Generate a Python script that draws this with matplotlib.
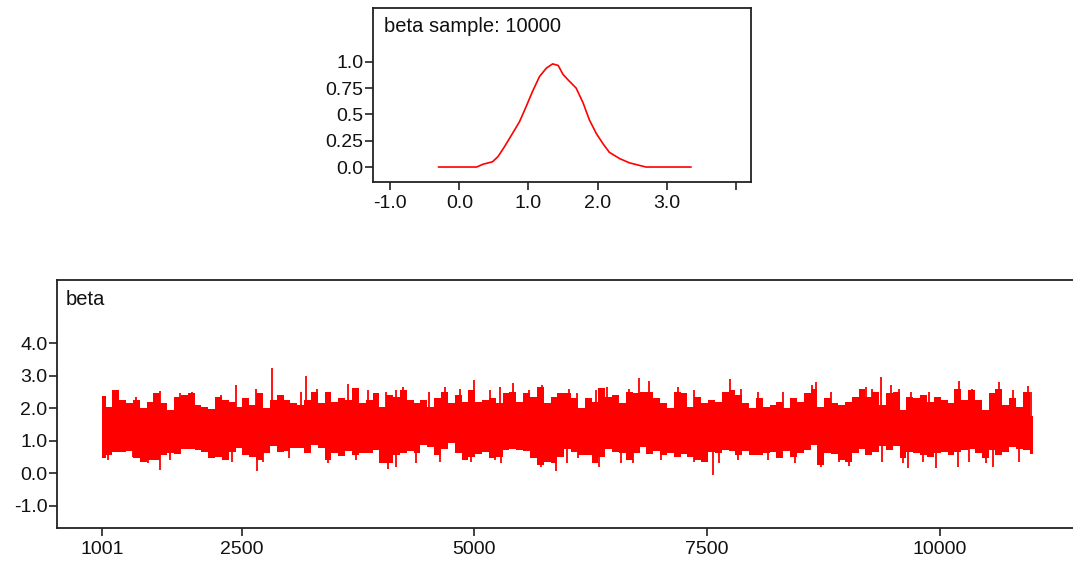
import numpy as np
import matplotlib
matplotlib.use("Agg")
from matplotlib import pyplot as plt

plt.rcParams['font.family'] = ['Liberation Sans', 'DejaVu Sans']

# density of beta (kernel estimate)
dens_x = [-0.3, 0.25, 0.34, 0.48, 0.56, 0.65, 0.77, 0.87, 0.97, 1.06, 1.16, 1.26, 1.35, 1.43,
          1.50, 1.57, 1.69, 1.79, 1.88, 1.98, 2.08, 2.17, 2.32, 2.46, 2.58, 2.70, 3.35]
dens_y = [0, 0, 0.026, 0.05, 0.1, 0.19, 0.32, 0.43, 0.58, 0.72, 0.86, 0.94, 0.98, 0.965,
          0.88, 0.83, 0.75, 0.61, 0.45, 0.32, 0.22, 0.14, 0.08, 0.04, 0.02, 0, 0]

# trace of beta: upper / lower edge of the dense band, iterations 1001..11000
trace_hi = [2.37, 2.04, 2.55, 2.25, 2.16, 2.25, 1.99, 2.19, 2.45, 2.16, 1.94, 2.35, 2.40, 2.45, 2.09, 2.04, 1.96, 2.35, 2.25, 2.20, 2.04, 2.30, 2.10,
            2.45, 1.99, 2.25, 2.40, 2.25, 2.14, 2.09, 2.25, 2.50, 2.14, 2.50, 2.19, 2.30, 2.25, 2.61, 2.14, 2.25, 2.45, 2.04, 2.40, 2.35, 2.55, 2.25,
            2.14, 2.25, 2.04, 2.30, 2.50, 2.14, 2.40, 2.19, 2.55, 2.19, 2.25, 2.30, 2.14, 2.45, 2.50, 2.19, 2.45, 2.35, 2.66, 2.14, 2.35, 2.45, 2.45,
            2.30, 1.99, 2.30, 2.19, 2.61, 2.35, 2.40, 2.14, 2.50, 2.45, 2.50, 2.50, 2.30, 2.14, 1.99, 2.50, 2.45, 2.04, 2.35, 2.14, 2.25, 2.19, 2.50,
            2.55, 2.40, 2.14, 1.99, 2.30, 2.04, 2.09, 2.19, 1.99, 2.30, 2.19, 2.45, 2.60, 2.04, 2.30, 2.14, 2.09, 2.19, 2.35, 2.60, 2.35, 2.50, 2.09,
            2.45, 2.50, 1.94, 2.35, 2.30, 2.40, 2.19, 2.35, 2.25, 2.14, 2.60, 2.25, 2.55, 2.25, 1.94, 2.45, 2.60, 2.09, 2.30, 2.04, 2.50, 1.75]
trace_lo = [0.45, 0.55, 0.66, 0.66, 0.69, 0.45, 0.35, 0.40, 0.40, 0.55, 0.61, 0.58, 0.73, 0.73, 0.71, 0.66, 0.45, 0.50, 0.40, 0.66, 0.76, 0.55, 0.50,
            0.40, 0.61, 0.83, 0.66, 0.69, 0.76, 0.76, 0.61, 0.86, 0.76, 0.40, 0.63, 0.52, 0.69, 0.55, 0.61, 0.63, 0.71, 0.30, 0.30, 0.55, 0.61, 0.69,
            0.63, 0.86, 0.79, 0.55, 0.73, 0.91, 0.63, 0.40, 0.50, 0.58, 0.66, 0.45, 0.50, 0.71, 0.73, 0.71, 0.69, 0.45, 0.25, 0.35, 0.30, 0.50, 0.73,
            0.66, 0.55, 0.55, 0.30, 0.50, 0.73, 0.66, 0.61, 0.40, 0.63, 0.79, 0.58, 0.69, 0.55, 0.61, 0.50, 0.58, 0.50, 0.40, 0.35, 0.66, 0.61, 0.71,
            0.69, 0.55, 0.69, 0.55, 0.55, 0.61, 0.66, 0.45, 0.69, 0.50, 0.61, 0.71, 0.86, 0.25, 0.61, 0.58, 0.40, 0.35, 0.63, 0.73, 0.55, 0.66, 0.83,
            0.71, 0.83, 0.45, 0.66, 0.61, 0.55, 0.50, 0.63, 0.66, 0.55, 0.66, 0.71, 0.73, 0.61, 0.45, 0.71, 0.55, 0.66, 0.81, 0.73, 0.71, 0.60]

# single draws that stick out of the band
spike_hi_it = [1367, 1626, 1842, 1971, 2273, 2434, 2650, 2822, 3135, 3188, 3307, 3640, 3857, 4050, 4158, 4234,
               4514, 4686, 4848, 4999, 5171, 5279, 5419, 5581, 5721, 6012, 6098, 6303, 6421, 6658, 6766, 6874,
               7187, 7359, 7740, 7865, 8048, 8318, 8620, 8663, 8824, 9201, 9266, 9363, 9471, 9557, 9686, 9880,
               10204, 10343, 10635, 10785, 10947, 10979]
spike_hi_v = [2.35, 2.53, 2.45, 2.50, 2.40, 2.71, 2.60, 3.22, 2.50, 3.00, 2.60, 2.75, 2.55, 2.50, 2.55, 2.65,
              2.50, 2.66, 2.60, 2.86, 2.55, 2.66, 2.78, 2.55, 2.72, 2.60, 2.45, 2.55, 2.66, 2.60, 2.93, 2.82,
              2.66, 2.55, 2.90, 2.60, 2.50, 2.50, 2.70, 2.80, 2.50, 2.66, 2.60, 2.96, 2.70, 2.60, 2.50, 2.50,
              2.82, 2.60, 2.80, 2.55, 2.68, 2.50]
spike_lo_it = [1066, 1335, 1497, 1626, 1734, 2197, 2391, 2660, 2725, 3005, 3426, 3727, 4072, 4158,
               4374, 4632, 4967, 5225, 5290, 5710, 5872, 5990, 6109, 6335, 6572, 6701, 7003, 7359, 7564, 7628,
               7833, 8156, 8447, 8727, 8910, 9018, 9374, 9600, 9654, 9815, 9956, 10193, 10312, 10495, 10570, 10850]
spike_lo_v = [0.40, 0.50, 0.30, 0.09, 0.40, 0.45, 0.35, 0.05, 0.35, 0.45, 0.30, 0.40, 0.12, 0.20,
              0.30, 0.35, 0.35, 0.40, 0.30, 0.20, 0.05, 0.30, 0.45, 0.20, 0.30, 0.30, 0.40, 0.35, -0.05, 0.30,
              0.40, 0.40, 0.30, 0.20, 0.35, 0.22, 0.35, 0.30, 0.15, 0.35, 0.15, 0.18, 0.35, 0.30, 0.20, 0.35]

iter_first, iter_last = 1001, 11000
trace_ticks = [1001, 2500, 5000, 7500, 10000]

red = '#ff0000'
txt = '#111111'

fig = plt.figure(figsize=(10.73, 5.69), dpi=100)

def style(ax):
    for s in ax.spines.values():
        s.set_linewidth(1.3)
        s.set_color('#222222')
    ax.tick_params(direction='out', length=5.5, width=1.2, color='#222222',
                   labelsize=14, labelcolor=txt)
    ax.tick_params(axis='y', pad=1.5)
    ax.tick_params(axis='x', pad=4)

# top: density
ax1 = fig.add_axes([0.3476, 0.680, 0.3523, 0.3058])
ax1.plot(dens_x, dens_y, color=red, lw=1.2)
ax1.set_xlim(-1.25, 4.22)
ax1.set_ylim(-0.143, 1.51)
ax1.set_xticks([-1, 0, 1, 2, 3, 4])
ax1.set_xticklabels(['-1.0', '0.0', '1.0', '2.0', '3.0', ''])
ax1.set_yticks([0, 0.25, 0.5, 0.75, 1.0])
ax1.set_yticklabels(['0.0', '0.25', '0.5', '0.75', '1.0'])
style(ax1)
ax1.text(0.029, 0.897, 'beta sample: 10000', transform=ax1.transAxes,
         fontsize=14.5, color=txt, va='center', ha='left')

# bottom: trace
ax2 = fig.add_axes([0.0531, 0.0721, 0.952, 0.4359])
it = np.linspace(iter_first, iter_last, len(trace_hi))
ax2.fill_between(it, trace_lo, trace_hi, step='mid', color=red, lw=0)
ax2.vlines(spike_hi_it, 1.5, spike_hi_v, color=red, lw=1.3)
ax2.vlines(spike_lo_it, spike_lo_v, 1.5, color=red, lw=1.3)
ax2.set_xlim(516, 11487)
ax2.set_ylim(-1.69, 5.94)
ax2.set_xticks(trace_ticks)
ax2.set_xticklabels([str(t) for t in trace_ticks])
ax2.set_yticks([-1, 0, 1, 2, 3, 4])
ax2.set_yticklabels(['-1.0', '0.0', '1.0', '2.0', '3.0', '4.0'])
style(ax2)
ax2.text(0.009, 0.923, 'beta', transform=ax2.transAxes,
         fontsize=14.5, color=txt, va='center', ha='left')

fig.savefig('out.png', dpi=100)
